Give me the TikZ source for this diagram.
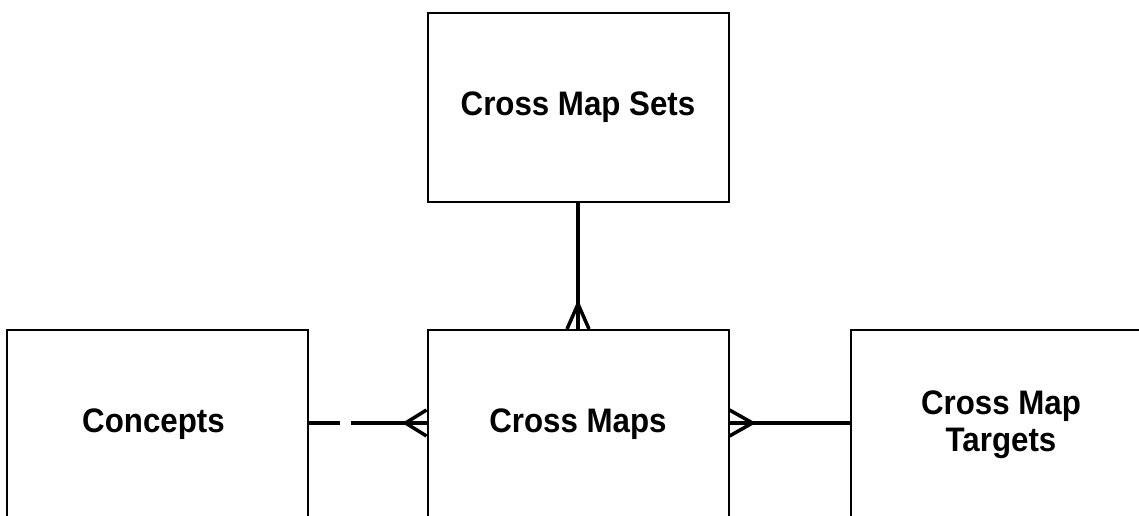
\documentclass[tikz,border=0pt]{standalone}
\usepackage{fontspec}
\newfontfamily\lblfont[FakeStretch=0.92]{Liberation Sans}
\usetikzlibrary{calc}
\tikzset{
  entity/.style={draw=black, line width=2pt, rectangle, minimum width=301pt, minimum height=189pt,
    inner sep=0pt, align=center, font=\lblfont\bfseries\fontsize{34}{37}\selectfont},
  conn/.style={line width=4pt, black},
  foot/.style={line width=3.5pt, black},
}
\begin{document}
\begin{tikzpicture}[x=1pt,y=-1pt]
\useasboundingbox (0,0) rectangle (1139,516);
\fill[white] (0,0) rectangle (1139,516);
\clip (0,0) rectangle (1139,516);
\node[entity] (sets) at (578,107.5) {Cross Map Sets};
\node[entity] (concepts) at (157.5,424.5) {\hspace*{-8pt}Concepts};
\node[entity] (maps) at (578,424.5) {Cross Maps};
\node[entity] (targets) at (1001,424.5) {Cross Map\\Targets};
\coordinate (cy) at (0,423);
% Cross Map Sets -- Cross Maps
\draw[conn] (sets.south) -- (maps.north);
\draw[foot] ($(maps.north)+(0pt,25pt)$) -- ($(maps.north)+(-11pt,0pt)$);
\draw[foot] ($(maps.north)+(0pt,25pt)$) -- (maps.north);
\draw[foot] ($(maps.north)+(0pt,25pt)$) -- ($(maps.north)+(11pt,0pt)$);
% Concepts -- Cross Maps (dashed)
\draw[conn, dash pattern=on 31pt off 11pt on 200pt off 0pt] (concepts.east |- cy) -- (maps.west |- cy);
\coordinate (lw) at (maps.west |- cy);
\draw[foot] ($(lw)+(-21pt,0pt)$) -- ($(lw)+(0pt,13pt)$);
\draw[foot] ($(lw)+(-21pt,0pt)$) -- (lw);
\draw[foot] ($(lw)+(-21pt,0pt)$) -- ($(lw)+(0pt,-13pt)$);
% Cross Maps -- Targets
\coordinate (re) at (maps.east |- cy);
\draw[conn] (re) -- (targets.west |- cy);
\draw[foot] ($(re)+(23pt,0pt)$) -- ($(re)+(0pt,13pt)$);
\draw[foot] ($(re)+(23pt,0pt)$) -- (re);
\draw[foot] ($(re)+(23pt,0pt)$) -- ($(re)+(0pt,-13pt)$);
\end{tikzpicture}
\end{document}
